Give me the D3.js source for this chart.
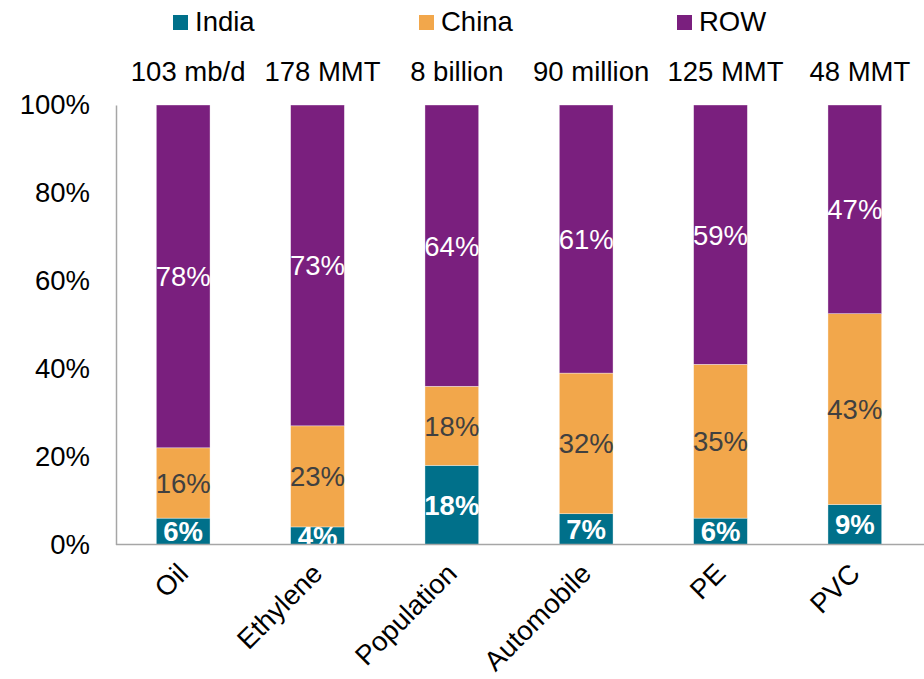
<!DOCTYPE html>
<html><head><meta charset="utf-8">
<script src="https://cdn.jsdelivr.net/npm/d3@7/dist/d3.min.js"></script>
<style>body{margin:0;background:#fff;font-family:"Liberation Sans",Arial,sans-serif;}</style>
</head><body><svg id="c" width="924" height="679"></svg>
<script>
const categories = ["Oil","Ethylene","Population","Automobile","PE","PVC"];
const totals = ["103 mb/d","178 MMT","8 billion","90 million","125 MMT","48 MMT"];
const india = [6,4,18,7,6,9];
const china = [16,23,18,32,35,43];
const row = [78,73,64,61,59,47];
const seriesNames = ["India","China","ROW"];
const yTicks = [0,20,40,60,80,100];
const colors = {India:"#00708A", China:"#F2A74B", ROW:"#7A1F7E"};
const labelStyle = {India:{fill:"#fff",weight:"bold"}, China:{fill:"#404040",weight:"normal"}, ROW:{fill:"#fff",weight:"normal"}};
const FS = 27.5;
const FF = "Liberation Sans, Arial, sans-serif";

const svg = d3.select("#c");
const x = d3.scaleBand().domain(categories).range([116,922]).paddingInner(0.6).paddingOuter(0.3);
const y = d3.scaleLinear().domain([0,100]).range([544.5,105]);

const data = categories.map((c,i)=>({cat:c, India:india[i], China:china[i], ROW:row[i]}));
const stack = d3.stack().keys(seriesNames).offset(d3.stackOffsetExpand)(data);

const g = svg.append("g");
stack.forEach(s=>{
  const key = s.key;
  g.selectAll(null).data(s).join("rect")
    .attr("x", d=>x(d.data.cat)).attr("width", x.bandwidth())
    .attr("y", d=>y(d[1]*100)).attr("height", d=>y(d[0]*100)-y(d[1]*100))
    .attr("fill", colors[key]).attr("stroke","#fff").attr("stroke-width",0.6).attr("stroke-opacity",0.6);
  g.selectAll(null).data(s).join("text")
    .attr("x", d=>x(d.data.cat)+x.bandwidth()/2)
    .attr("y", d=>(y(d[0]*100)+y(d[1]*100))/2)
    .attr("dy","0.36em").attr("text-anchor","middle")
    .attr("font-size",FS).attr("fill",labelStyle[key].fill).attr("font-weight",labelStyle[key].weight)
    .text(d=>d.data[key]+"%");
});

// axes
const yAxis = svg.append("g").attr("transform","translate(116,0)")
  .call(d3.axisLeft(y).tickValues(yTicks).tickSize(0).tickFormat(d=>d+"%"));
yAxis.select(".domain").attr("stroke","#A6A6A6").attr("stroke-width",1.5);
yAxis.selectAll("text").attr("font-size",FS).attr("fill","#000").attr("x",-26).attr("font-family",FF);

const xAxis = svg.append("g").attr("transform","translate(0,544.5)")
  .call(d3.axisBottom(x).tickSize(0).tickSizeOuter(0));
xAxis.select(".domain").attr("stroke","#A6A6A6").attr("stroke-width",1.5).attr("d","M116,0H924");
xAxis.selectAll("text").attr("font-size",FS).attr("fill","#000").attr("font-family",FF)
  .attr("text-anchor","end").attr("transform","translate(-7,17) rotate(-45)").attr("dy","0.7em").attr("y",0);

// totals
svg.selectAll(".tot").data(categories).join("text").attr("class","tot")
  .attr("x",(d,i)=>x(d)+x.bandwidth()/2+5).attr("y",81)
  .attr("text-anchor","middle").attr("font-size",FS).attr("fill","#000")
  .text((d,i)=>totals[i]);

// legend
const legX = [173,419,677];
const leg = svg.selectAll(".leg").data(seriesNames).join("g").attr("class","leg")
  .attr("transform",(d,i)=>`translate(${legX[i]},15)`);
leg.append("rect").attr("width",15).attr("height",15).attr("fill",d=>colors[d]);
leg.append("text").attr("x",22).attr("y",16).attr("font-size",FS).attr("fill","#000").text(d=>d);
</script></body></html>
